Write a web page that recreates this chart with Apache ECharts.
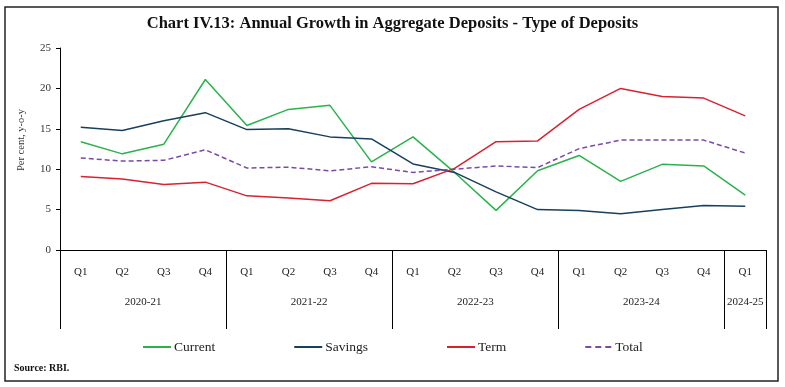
<!DOCTYPE html>
<html><head><meta charset="utf-8">
<script src="https://cdn.jsdelivr.net/npm/echarts@6/dist/echarts.min.js"></script>
<style>html,body{margin:0;padding:0;background:#fff}#c{width:785px;height:387px}</style>
</head><body><div id="c"></div>
<script>
const quarters = ['Q1','Q2','Q3','Q4','Q1','Q2','Q3','Q4','Q1','Q2','Q3','Q4','Q1','Q2','Q3','Q4','Q1'];
const years = ['2020-21','2021-22','2022-23','2023-24','2024-25'];
const yearSpans = [4,4,4,4,1];
const current = [13.4,11.9,13.1,21.1,15.4,17.4,17.9,10.9,14.0,9.6,4.9,9.8,11.7,8.5,10.6,10.4,6.8];
const savings = [15.2,14.8,16.0,17.0,14.9,15.0,14.0,13.75,10.65,9.6,7.2,5.0,4.9,4.5,5.0,5.5,5.4];
const term = [9.1,8.8,8.1,8.4,6.7,6.45,6.1,8.25,8.2,10.1,13.4,13.5,17.4,20.0,19.0,18.8,16.6];
const total = [11.4,11.0,11.1,12.4,10.15,10.25,9.8,10.3,9.6,10.0,10.4,10.2,12.55,13.6,13.6,13.6,12.0];
const yTicks = [0,5,10,15,20,25];

const bounds = [0]; yearSpans.forEach(s => bounds.push(bounds[bounds.length-1] + s));
const centers = yearSpans.map((s,i) => bounds[i] + s/2);
const centerLabel = {}; centers.forEach((c,i) => centerLabel[c] = years[i]);

const serif = 'Liberation Serif';
const chart = echarts.init(document.getElementById('c'));
const mk = (name, data, color, dashed) => ({
  name, type:'line', data, xAxisIndex:0, symbol:'none', showSymbol:false, smooth:false,
  lineStyle:{color, width:1.5, type: dashed ? [5,3] : 'solid'},
  itemStyle:{color}
});
const solidIcon = 'rect';
const dashIcon = 'path://M0,0h6v2h-6z M10,0h6v2h-6z M20,0h6v2h-6z';
chart.setOption({
  animation:false,
  title:{text:'Chart IV.13: Annual Growth in Aggregate Deposits - Type of Deposits', left:'center', top:10,
    textStyle:{fontFamily:serif, fontSize:16.5, fontWeight:'bold', color:'#111'}},
  grid:{left:60, right:19, top:48, bottom:137},
  legend:{bottom:28, left:138, itemGap:79, itemWidth:28, itemHeight:2,
    textStyle:{fontFamily:serif, fontSize:13.5, color:'#222', padding:[0,0,0,-2]},
    data:[{name:'Current', icon:solidIcon},{name:'Savings', icon:solidIcon},{name:'Term', icon:solidIcon},{name:'Total', icon:dashIcon}]},
  xAxis:[
    {type:'category', data:quarters, boundaryGap:true,
      axisLine:{lineStyle:{color:'#000', width:1}}, axisTick:{show:false},
      axisLabel:{fontFamily:serif, fontSize:11, color:'#222', margin:17}},
    {type:'value', min:0, max:bounds[bounds.length-1], position:'bottom',
      axisLine:{show:false}, splitLine:{show:false},
      axisTick:{show:true, customValues:bounds, length:79, lineStyle:{color:'#000', width:1}},
      axisLabel:{customValues:centers, formatter:v => centerLabel[v] || '', fontFamily:serif, fontSize:11, color:'#222', margin:47}}
  ],
  yAxis:{type:'value', min:0, max:25, interval:5,
    axisLine:{show:true, lineStyle:{color:'#000'}}, axisTick:{show:true, length:4, lineStyle:{color:'#000'}},
    splitLine:{show:false},
    axisLabel:{fontFamily:serif, fontSize:11, color:'#333', margin:9, customValues:yTicks}},
  series:[
    mk('Current', current, '#2bb24c', false),
    mk('Savings', savings, '#17405e', false),
    mk('Term', term, '#d8232f', false),
    mk('Total', total, '#7b4aa6', true)
  ],
  graphic:[
    {type:'rect', shape:{x:5, y:7, width:773, height:374}, style:{fill:'none', stroke:'#222', lineWidth:1.5}, silent:true},
    {type:'text', x:21, y:140, rotation:Math.PI/2, style:{text:'Per cent, y-o-y', fontFamily:serif, fontSize:10.5, fill:'#333', align:'center', verticalAlign:'middle'}},
    {type:'text', left:14, top:363, style:{text:'Source: RBI.', fontFamily:serif, fontSize:10, fontWeight:'bold', fill:'#111'}}
  ]
});
</script></body></html>
